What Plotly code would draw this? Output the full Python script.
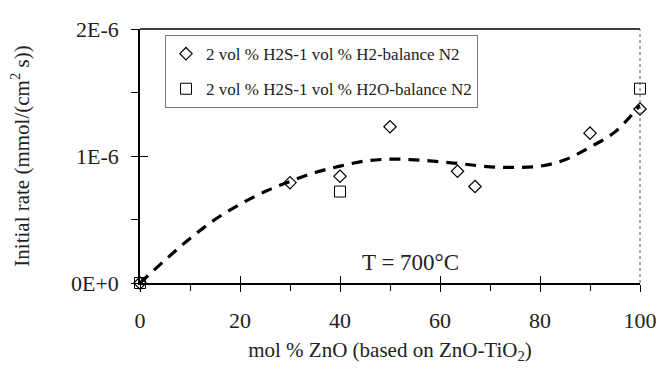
import plotly.graph_objects as go

# H2 feed (diamonds)
h2_x = [0, 30, 40, 50, 63.5, 67, 90, 100]
h2_y = [0, 0.79e-6, 0.84e-6, 1.23e-6, 0.88e-6, 0.76e-6, 1.18e-6, 1.37e-6]

# H2O feed (squares)
h2o_x = [0, 40, 100]
h2o_y = [0, 0.72e-6, 1.53e-6]

# dashed trend line
fit_x = [0, 5, 10, 15, 20, 25, 30, 35, 40, 45, 50, 55, 60, 65, 70, 75, 80, 85, 90, 95, 100]
fit_y = [0, 0.18e-6, 0.35e-6, 0.50e-6, 0.62e-6, 0.72e-6, 0.80e-6, 0.87e-6, 0.92e-6, 0.96e-6,
         0.975e-6, 0.97e-6, 0.955e-6, 0.935e-6, 0.915e-6, 0.91e-6, 0.92e-6, 0.97e-6, 1.07e-6,
         1.19e-6, 1.40e-6]

x_ticks = [0, 20, 40, 60, 80, 100]
y_tickvals = [0, 1e-6, 2e-6]
y_ticktext = ["0E+0", "1E-6", "2E-6"]

FONT = "Liberation Serif, Times New Roman, serif"

fig = go.Figure()
fig.add_trace(go.Scatter(x=fit_x, y=fit_y, mode="lines",
                         line=dict(color="black", width=3.2, dash="11px,8px", shape="spline"),
                         showlegend=False, hoverinfo="skip", cliponaxis=False))
fig.add_trace(go.Scatter(x=h2_x, y=h2_y, mode="markers", name="2 vol % H2S-1 vol % H2-balance N2",
                         legendgroup="a",
                         marker=dict(symbol="diamond-open", size=9.5, color="black", line=dict(width=1.2)),
                         cliponaxis=False))
fig.add_trace(go.Scatter(x=h2o_x, y=h2o_y, mode="markers", name="2 vol % H2S-1 vol % H2O-balance N2",
                         legendgroup="b",
                         marker=dict(symbol="square-open", size=11, color="black", line=dict(width=1)),
                         cliponaxis=False))
fig.add_trace(go.Scatter(x=[], y=[], xaxis="x2", yaxis="y2", showlegend=False))

axis_common = dict(showgrid=False, zeroline=False, linecolor="black", linewidth=1.5,
                   tickcolor="black", tickwidth=1.3, automargin=False)

fig.update_layout(
    width=660, height=380,
    margin=dict(l=140, r=20, t=29, b=97),
    paper_bgcolor="white", plot_bgcolor="white",
    font=dict(family=FONT, color="#222", size=21),
    xaxis=dict(range=[0, 100], tickvals=x_ticks, ticks="outside", ticklen=7, ticklabelstandoff=10,
               minor=dict(dtick=10, ticks="outside", ticklen=6, tickcolor="black", tickwidth=1.2),
               title=dict(text="mol % ZnO (based on ZnO-TiO<sub>2</sub>)", font=dict(size=21), standoff=10),
               tickfont=dict(size=22), **axis_common),
    yaxis=dict(range=[0, 2e-6], tickvals=y_tickvals, ticktext=y_ticktext, ticks="outside", ticklen=7,
               ticklabelstandoff=8,
               minor=dict(dtick=0.5e-6, ticks="outside", ticklen=7, tickcolor="black", tickwidth=1.2),
               title=dict(text="Initial rate (mmol/(cm<sup>2</sup> s))", font=dict(size=21), standoff=36),
               tickfont=dict(size=22), **axis_common),
    xaxis2=dict(range=[0, 100], overlaying="x", tickvals=x_ticks, ticks="inside", ticklen=7,
                showticklabels=False, showline=False, showgrid=False, zeroline=False,
                tickcolor="black", tickwidth=1.3),
    yaxis2=dict(range=[0, 2e-6], overlaying="y", tickvals=y_tickvals, ticks="inside", ticklen=8,
                showticklabels=False, showline=False, showgrid=False, zeroline=False,
                tickcolor="black", tickwidth=1.3),
    legend=dict(x=0.05, y=0.976, xanchor="left", yanchor="top", bordercolor="#777", borderwidth=1,
                bgcolor="rgba(255,255,255,0)", font=dict(size=17, family=FONT),
                itemwidth=30, tracegroupgap=10),
    showlegend=True,
)

# top frame line and dotted right frame line
fig.add_shape(type="line", xref="paper", yref="paper", x0=0, x1=1, y0=1, y1=1,
              line=dict(color="black", width=1.5))
fig.add_shape(type="line", xref="paper", yref="paper", x0=1, x1=1, y0=0, y1=1,
              line=dict(color="#555", width=1, dash="dot"))

fig.add_annotation(x=54, y=0.165e-6, text="T = 700°C", showarrow=False,
                   font=dict(size=23, family=FONT, color="#222"))

fig.write_html("out.html", config={"displayModeBar": False},
               post_script="document.body.style.margin='0';")
